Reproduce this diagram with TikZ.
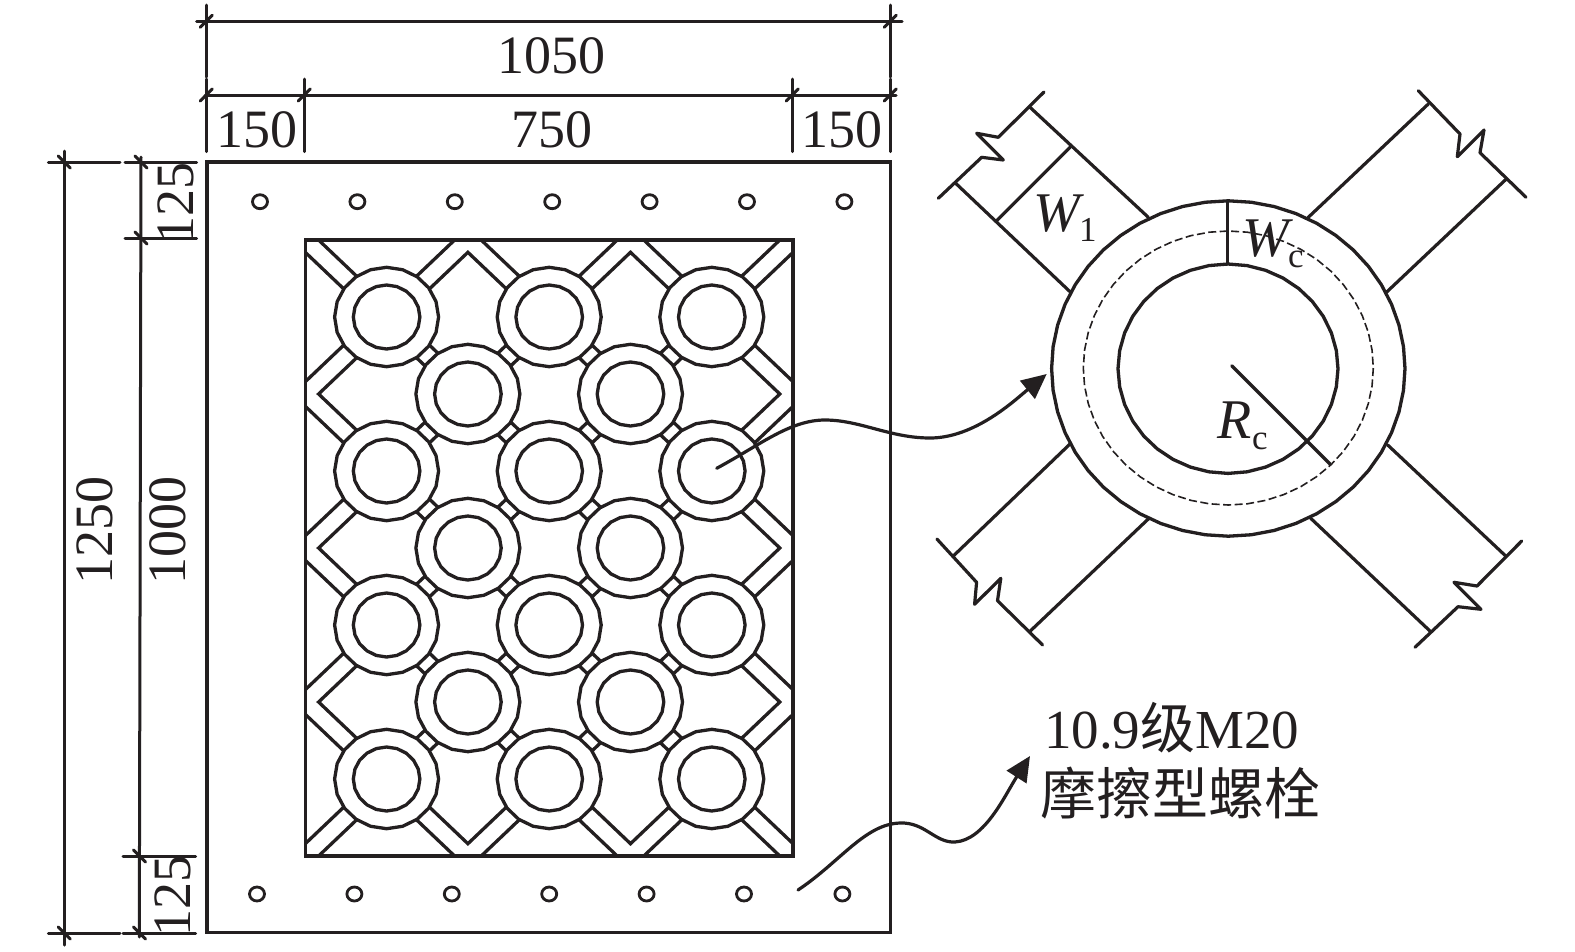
\documentclass[tikz,border=0pt]{standalone}
\usepackage{fontspec}
\setmainfont{Liberation Serif}
\newfontfamily\cjk{Noto Sans CJK SC}
\usetikzlibrary{arrows.meta}
\definecolor{ink}{HTML}{231F20}
\newcommand\facet[5]{\draw[fill=white] plot[samples=#5+1,domain=0:360,variable=\t] ({#1+#3*cos(\t)},{#2+#4*sin(\t)}) -- cycle;}
\newcommand\bigtxt{\fontsize{54}{60}\selectfont}
\newcommand\subtxt{\fontsize{35}{38}\selectfont}
\tikzset{
 lbl/.style={inner sep=0pt,outer sep=0pt,text=ink,font=\bigtxt},
 sublbl/.style={inner sep=0pt,outer sep=0pt,text=ink,font=\subtxt,anchor=base west},
 dimline/.style={line width=3pt,line cap=round},
 thin arm/.style={line width=3.2pt,line join=round,line cap=round},
 pointer/.style={line width=3.2pt,line cap=round,-{Triangle[length=25pt,width=23pt]}},
}
\begin{document}
\begin{tikzpicture}[x=1pt,y=-1pt,draw=ink,line width=3.3pt]
\useasboundingbox (0,0) rectangle (1575,951);
% lattice
\begin{scope}
\clip (305.3,240) rectangle (793.1,856);
\foreach \k in {0,...,6}{\foreach \m in {0,...,8}{
  \pgfmathtruncatemacro\oddq{mod(\k+\m,2)}
  \ifnum\oddq=1
   \pgfmathsetmacro\cx{305.3+81.3*\k}
   \pgfmathsetmacro\cy{240+77*\m}
   \draw[line join=miter] (\cx-68,\cy) -- (\cx,\cy-64.7) -- (\cx+68,\cy) -- (\cx,\cy+64.7) -- cycle;
  \fi
}}
\end{scope}
\draw (305.3,240) rectangle (793.1,856);
\draw (207,162) rectangle (890.3,932.5);
\foreach \k in {1,...,5}{\foreach \m in {1,...,7}{
  \pgfmathtruncatemacro\oddq{mod(\k+\m,2)}
  \ifnum\oddq=0
   \pgfmathsetmacro\cx{305.3+81.3*\k}
   \pgfmathsetmacro\cy{240+77*\m}
   \facet{\cx}{\cy}{52}{49.7}{20}
   \facet{\cx}{\cy}{33.3}{32}{20}
  \fi
}}
% bolts
\foreach \x in {260,357.4,454.8,552.2,649.6,747,844.4}{\draw[line width=2.8pt] (\x,201.7) ellipse (7.5 and 7);}
\foreach \x in {257,354.4,451.8,549.2,646.6,744,842.4}{\draw[line width=2.8pt] (\x,894) ellipse (7.5 and 7);}
% dimensions top
\draw[dimline] (196.7,21.3) -- (902,21.3);
\draw[dimline] (206.3,5) -- (206.3,77);
\draw[dimline] (890.3,5) -- (890.3,77);
\draw[dimline] (205,95) -- (896,95);
\foreach \x in {206.3,304.3,792.3,890.3}{\draw[dimline] (\x,79) -- (\x,151.7);}
\foreach \x in {206.3,304.3,792.3,890.3}{\draw[dimline] (\x-6,101) -- (\x+6,89);}
\foreach \x in {206.3,890.3}{\draw[dimline] (\x-6,27.3) -- (\x+6,15.3);}
% dimensions left
\draw[dimline] (64.3,151) -- (64.3,945);
\draw[dimline] (141,157) -- (139.3,937);
\draw[dimline] (48.3,162) -- (120,162);
\draw[dimline] (48.3,933) -- (120,933);
\draw[dimline] (125,162) -- (196.7,162);
\draw[dimline] (125,238) -- (196.7,238);
\draw[dimline] (123,856) -- (195.7,856);
\draw[dimline] (123,933) -- (195.7,933);
\draw[dimline] (58.3,156) -- (70.3,168);
\draw[dimline] (58.3,927) -- (70.3,939);
\draw[dimline] (135,156) -- (147,168);
\draw[dimline] (135,232) -- (147,244);
\draw[dimline] (133.5,850) -- (145.5,862);
\draw[dimline] (133.5,927) -- (145.5,939);
% dim labels
\node[lbl] (d1050) at (551,55.5) {1050};
\node[lbl] (d150a) at (257.3,130) {150};
\node[lbl] (d750) at (552,130) {750};
\node[lbl] (d150b) at (842.3,130) {150};
\node[lbl,rotate=90] (d1250) at (95,530) {1250};
\node[lbl,rotate=90] (d1000) at (168,530) {1000};
\node[lbl,rotate=90] (d125a) at (175.7,203) {125};
\node[lbl,rotate=90] (d125b) at (173,895.5) {125};
% arms
\draw[thin arm] (1044,92) -- (998.3,137.3) -- (976.7,133.3) -- (1003.3,160) -- (981.7,157.3) -- (938.3,198.3);
\draw[thin arm] (1030,107.3) -- (1148.3,217.3);
\draw[thin arm] (955.7,183.3) -- (1070,291.7);
\draw[thin arm] (1070,147.3) -- (996.7,220.7);
\draw[thin arm] (1418.3,90.7) -- (1460,134) -- (1457.3,156.7) -- (1484,130) -- (1480,152.7) -- (1526,197.3);
\draw[thin arm] (1428.3,104) -- (1308.3,217.3);
\draw[thin arm] (1506,179.3) -- (1386.7,292);
\draw[thin arm] (936.9,539) -- (976.6,582.3) -- (974.6,604.3) -- (1000.8,578.3) -- (997.5,600.7) -- (1042.6,645);
\draw[thin arm] (1070,444) -- (953.3,556);
\draw[thin arm] (1149,518.3) -- (1030.3,631);
\draw[thin arm] (1521.7,541) -- (1477,586) -- (1454,582.3) -- (1481,609.3) -- (1458,606.7) -- (1415,647.3);
\draw[thin arm] (1387.7,445) -- (1505.7,556);
\draw[thin arm] (1310.7,518.3) -- (1430.7,631.7);
% ring
\facet{1228.3}{368.5}{176.7}{167.7}{48}
\facet{1228}{368.7}{110}{104.7}{36}
\draw[line width=1.6pt,dash pattern=on 8pt off 3.5pt] plot[samples=49,domain=0:360,variable=\t] ({1228.3+145*cos(\t)},{368+137*sin(\t)}) -- cycle;
\draw[thin arm] (1227.7,200.7) -- (1227.7,264);
\draw[thin arm] (1231.7,365.7) -- (1330,464);
% symbol labels
\node[lbl,anchor=base west,font=\fontsize{56}{60}\selectfont\itshape] (w1) at (1033,231) {W};
\node[sublbl] (w1s) at (1079,241) {1};
\node[lbl,anchor=base west,font=\fontsize{56}{60}\selectfont\itshape] (wc) at (1242,256) {W};
\node[sublbl] (wcs) at (1288,267) {c};
\node[lbl,anchor=base west,font=\fontsize{56}{60}\selectfont\itshape] (rc) at (1217,438) {R};
\node[sublbl] (rcs) at (1252,449) {c};
% note
\node[lbl,anchor=base west,font=\fontsize{55}{60}\selectfont] (note1) at (1044,748) {10.9{\cjk 级}M20};
\node[lbl,anchor=base west,font=\fontsize{56}{60}\selectfont] (note2) at (1040,814) {{\cjk 摩擦型螺栓}};
% pointers
\coordinate (pa) at (716.7,468.3);
\coordinate (pc) at (825,420);
\coordinate (pe) at (930,438);
\coordinate (pg) at (1046.7,374);
\draw[pointer] (pa) .. controls (760,445) and (790,420) .. (pc) .. controls (860,420) and (890,438) .. (pe) .. controls (975,438) and (1015,400) .. (pg);
\coordinate (qa) at (798,890);
\coordinate (qc) at (900,823);
\coordinate (qe) at (955,842);
\coordinate (qg) at (1030,756);
\draw[pointer] (qa) .. controls (840,862) and (865,824) .. (qc) .. controls (925,822) and (935,843) .. (qe) .. controls (985,840) and (1005,795) .. (qg);
\end{tikzpicture}
\end{document}
